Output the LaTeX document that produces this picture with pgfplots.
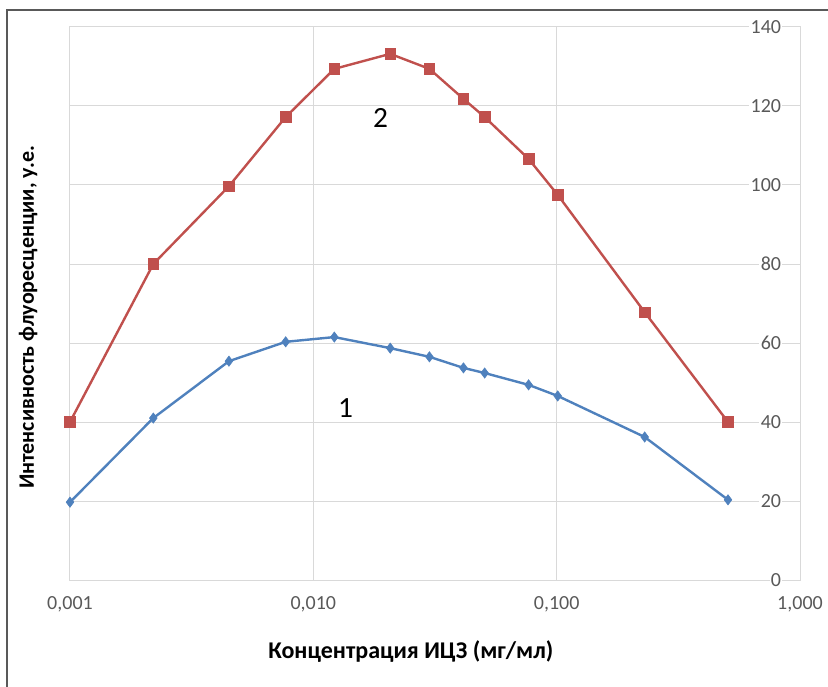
\documentclass[border=0pt]{standalone}
\usepackage{fontspec}
\setmainfont{Carlito}
\usepackage{pgfplots}
\pgfplotsset{compat=1.18}
\definecolor{serA}{HTML}{4F81BD}
\definecolor{serB}{HTML}{C0504D}
\definecolor{gridc}{HTML}{D9D9D9}
\definecolor{tickc}{HTML}{595959}
\begin{document}
\begin{tikzpicture}[x=0.75pt,y=0.75pt]
\path[use as bounding box] (-70,-106) rectangle (758,580);
\begin{axis}[
  at={(0,0)}, anchor=south west,
  width=547.5pt, height=414.75pt, scale only axis,
  xmode=log, xmin=0.001, xmax=1, ymin=0, ymax=140,
  xtick={0.001,0.01,0.1,1},
  xticklabels={{0,001},{0,010},{0,100},{1,000}},
  ytick={0,20,...,140},
  minor xtick={}, 
  xmajorgrids, ymajorgrids,
  grid style={draw=gridc, line width=0.75pt},
  axis line style={draw=gridc, line width=0.75pt},
  major tick length=0pt, minor tick length=0pt,
  ytick pos=right, yticklabel pos=right,
  yticklabel style={anchor=east, xshift=-13pt, font=\fontsize{15}{17}\selectfont, text=tickc, fill=white, inner sep=1pt},
  xticklabel style={yshift=-9pt, font=\fontsize{15}{17}\selectfont, text=tickc},
  /pgf/number format/assume math mode=true,
  every axis y label/.style={at={(axis description cs:-0.0575,0.475)}, rotate=90, anchor=center, font=\bfseries\fontsize{16.5}{19}\selectfont},
  every axis x label/.style={at={(axis description cs:0.467,-0.130)}, anchor=center, font=\bfseries\fontsize{18}{20}\selectfont},
  ylabel={Интенсивность флуоресценции, у.е.},
  xlabel={Концентрация ИЦЗ (мг/мл)},
  clip=false,
]
\addplot[serA, line width=1.8pt, mark=diamond*, mark size=3.8pt, mark options={fill=serA, draw=serA, line width=0.5pt}] coordinates {
(0.001,19.7) (0.0022,41.0) (0.0045,55.4) (0.0077,60.3) (0.0122,61.5) (0.0207,58.7) (0.030,56.5) (0.0414,53.7) (0.0506,52.4) (0.0767,49.4) (0.101,46.6) (0.230,36.2) (0.506,20.3)
};
\addplot[serB, line width=1.8pt, mark=square*, mark size=4pt, mark options={fill=serB, draw=serB, line width=0.5pt}] coordinates {
(0.001,40.0) (0.0022,80.0) (0.0045,99.7) (0.0077,117.2) (0.0122,129.4) (0.0207,133.2) (0.030,129.4) (0.0414,121.8) (0.0506,117.2) (0.0767,106.6) (0.101,97.5) (0.230,67.8) (0.506,40.0)
};
\node[fill=white, minimum width=40pt, inner sep=2pt, font=\fontsize{22}{24}\selectfont] at (axis cs:0.01356,43.5) {1};
\node[fill=white, minimum width=40pt, inner sep=2pt, font=\fontsize{22}{24}\selectfont] at (axis cs:0.0189,117) {2};
\end{axis}
\draw[black!65, line width=1.2pt] (-63,-120) -- (-63,570) -- (770,570);
\end{tikzpicture}
\end{document}
